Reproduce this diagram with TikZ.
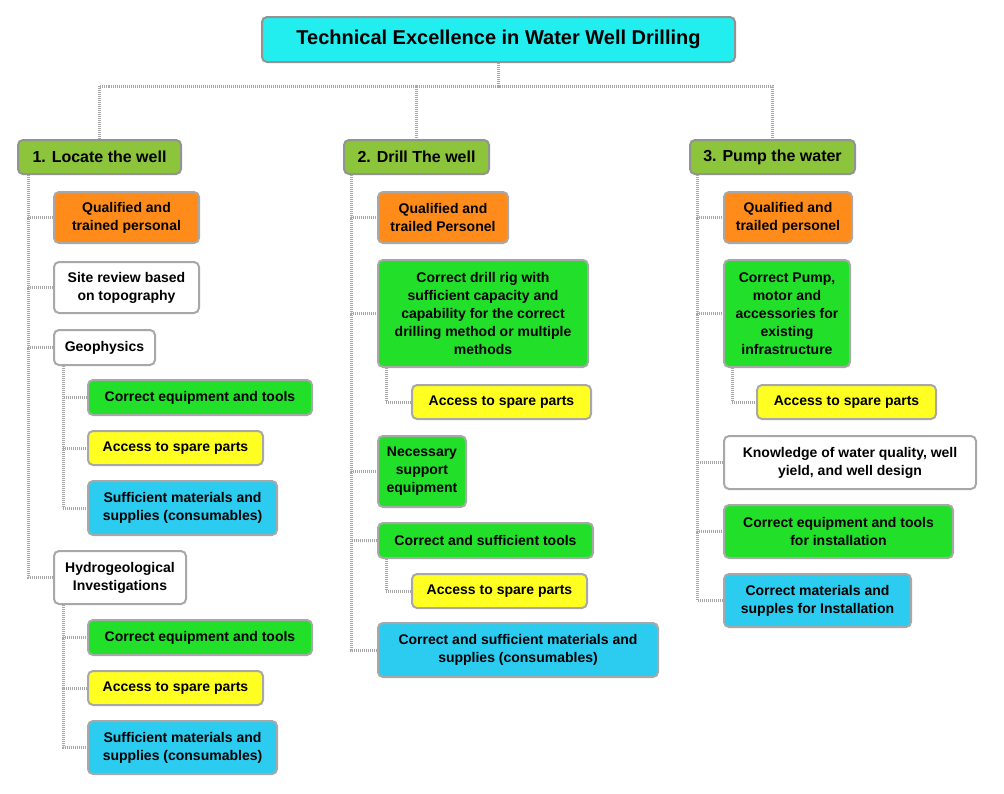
\documentclass[tikz,border=0pt]{standalone}
\usepackage{fontspec}
\setmainfont{Liberation Sans}
\usetikzlibrary{calc}
\definecolor{cTitle}{HTML}{22EEF0}
\definecolor{cHead}{HTML}{8CC43C}
\definecolor{cOrange}{HTML}{FF8C1A}
\definecolor{cGreen}{HTML}{22E02A}
\definecolor{cYellow}{HTML}{FFFF22}
\definecolor{cBlue}{HTML}{2CCCF0}
\definecolor{cLine}{HTML}{A8A8A8}
\tikzset{
	box/.style={draw=cLine,line width=2pt,rounded corners=5pt,inner sep=0pt,
		align=center,font=\fontsize{14}{18}\selectfont\bfseries},
	head/.style={box,draw=gray!85,fill=cHead,font=\fontsize{16}{19}\selectfont\bfseries},
	link/.style={draw=cLine,line width=3pt,dash pattern=on 1pt off 1pt},
}
% place box by its corners
\newcommand{\bx}[7]{\node[box,#2,minimum width=#5-#3,minimum height=#6-#4] (#1) at ({(#3+#5)/2},{(#4+#6)/2}) {#7};}
\begin{document}
\begin{tikzpicture}[x=1pt,y=-1pt]
	\useasboundingbox[fill=white] (0,0) rectangle (1004,793);
	% title and headers
	\bx{top}{draw=gray!85,fill=cTitle,font=\fontsize{20}{24}\selectfont\bfseries}{262}{17}{735}{62}{Technical Excellence in Water Well Drilling}
	\bx{h1}{head}{18}{140}{181}{174}{1. Locate the well}
	\bx{h2}{head}{344}{140}{489}{174}{2. Drill The well}
	\bx{h3}{head}{690}{140}{855}{174}{3. Pump the water}
	% column 1
	\bx{a1}{fill=cOrange}{54}{192}{199}{243}{Qualified and\\trained personal}
	\bx{a2}{fill=white}{54}{262}{199}{313}{Site review based\\on topography}
	\bx{a3}{fill=white}{54}{330}{155}{365}{Geophysics}
	\bx{a31}{fill=cGreen}{88}{380}{312}{415}{Correct equipment and tools}
	\bx{a32}{fill=cYellow}{88}{431}{263}{465}{Access to spare parts}
	\bx{a33}{fill=cBlue}{88}{481}{277}{535}{Sufficient materials and\\supplies (consumables)}
	\bx{a4}{fill=white}{54}{551}{186}{604}{Hydrogeological\\Investigations}
	\bx{a41}{fill=cGreen}{88}{620}{312}{655}{Correct equipment and tools}
	\bx{a42}{fill=cYellow}{88}{671}{263}{705}{Access to spare parts}
	\bx{a43}{fill=cBlue}{88}{721}{277}{774}{Sufficient materials and\\supplies (consumables)}
	% column 2
	\bx{b1}{fill=cOrange}{378}{192}{508}{243}{Qualified and\\trailed Personel}
	\bx{b2}{fill=cGreen}{378}{260}{588}{367}{Correct drill rig with\\sufficient capacity and\\capability for the correct\\drilling method or multiple\\methods}
	\bx{b21}{fill=cYellow}{412}{385}{591}{419}{Access to spare parts}
	\bx{b3}{fill=cGreen}{378}{436}{466}{507}{Necessary\\support\\equipment}
	\bx{b4}{fill=cGreen}{378}{523}{593}{558}{Correct and sufficient tools}
	\bx{b41}{fill=cYellow}{412}{574}{587}{608}{Access to spare parts}
	\bx{b5}{fill=cBlue}{378}{623}{658}{677}{Correct and sufficient materials and\\supplies (consumables)}
	% column 3
	\bx{c1}{fill=cOrange}{724}{192}{852}{243}{Qualified and\\trailed personel}
	\bx{c2}{fill=cGreen}{724}{260}{850}{367}{Correct Pump,\\motor and\\accessories for\\existing\\infrastructure}
	\bx{c21}{fill=cYellow}{757}{385}{936}{419}{Access to spare parts}
	\bx{c3}{fill=white}{724}{436}{976}{489}{Knowledge of water quality, well\\yield, and well design}
	\bx{c4}{fill=cGreen}{724}{505}{953}{558}{Correct equipment and tools\\for installation}
	\bx{c5}{fill=cBlue}{724}{574}{911}{627}{Correct materials and\\supples for Installation}
	% connectors
	\begin{scope}[on background layer/.style={}]
	\coordinate (fork) at ($(top.south)+(0,23)$);
	\foreach \h in {h1,h2,h3}
		\draw[link] (top.south) -- (fork) -| (\h.north);
	\foreach \p/\xs/\kids in {h1/11/{a1,a2,a3,a4}, h2/8/{b1,b2,b3,b4,b5}, h3/8/{c1,c2,c3,c4,c5},
			a3/10/{a31,a32,a33}, a4/10/{a41,a42,a43}, b2/9/{b21}, b4/9/{b41}, c2/9/{c21}}
		\foreach \k in \kids
			\draw[link] ([xshift=\xs pt]\p.south west) |- (\k.west);
	\end{scope}
\end{tikzpicture}
\end{document}
